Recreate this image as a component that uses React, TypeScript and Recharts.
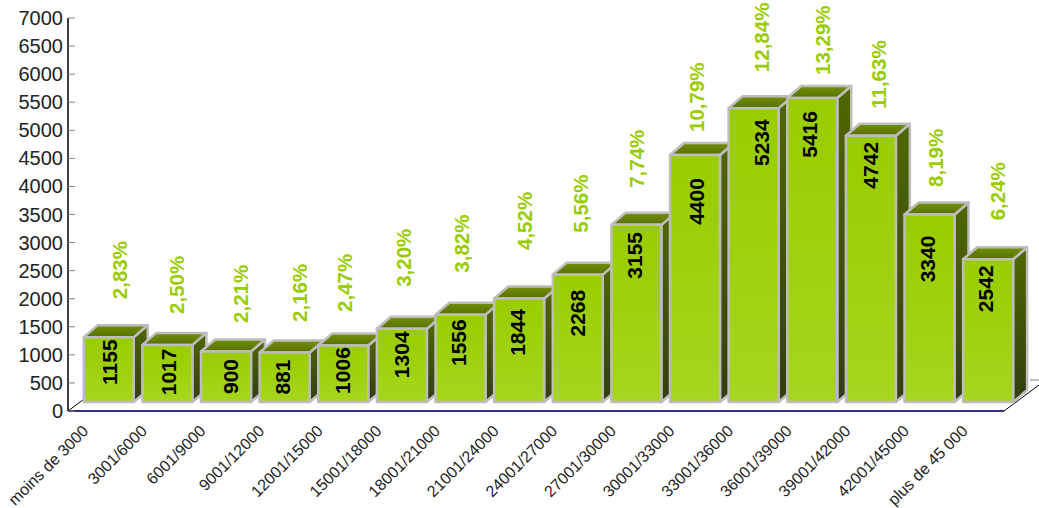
import React from 'react';
import { BarChart, Bar, XAxis, YAxis, LabelList, usePlotArea } from 'recharts';

const categories = [
  'moins de 3000', '3001/6000', '6001/9000', '9001/12000', '12001/15000', '15001/18000',
  '18001/21000', '21001/24000', '24001/27000', '27001/30000', '30001/33000', '33001/36000',
  '36001/39000', '39001/42000', '42001/45000', 'plus de 45 000',
];
const counts = [1155, 1017, 900, 881, 1006, 1304, 1556, 1844, 2268, 3155, 4400, 5234, 5416, 4742, 3340, 2542];
const shares = [
  '2,83%', '2,50%', '2,21%', '2,16%', '2,47%', '3,20%', '3,82%', '4,52%',
  '5,56%', '7,74%', '10,79%', '12,84%', '13,29%', '11,63%', '8,19%', '6,24%',
];
const yTicks = [0, 500, 1000, 1500, 2000, 2500, 3000, 3500, 4000, 4500, 5000, 5500, 6000, 6500, 7000];

const chartData = categories.map((name, i) => ({ name, count: counts[i], share: shares[i] }));

const FONT = '"Liberation Sans", Arial, sans-serif';
// the boxes sit on a floor that is drawn in perspective behind the axis
const SHIFT_X = 11.5;
const SHIFT_Y = -9;
const DEPTH_X = 14;
const DEPTH_Y = -12;

// the source chart places its labels unevenly, these nudges follow it bar by bar
const countDrop = [25, 27, 25, 24.5, 25, 26, 28, 34, 38.5, 30.5, 46.5, 34.5, 36.5, 29.5, 44.5, 29.5];
const countSide = [8.5, 9, 12, 5, 7, 7, 6, 6, 7, 6, 9, 15, 5, 7, 6, 5];
const shareRise = [38, 31, 28.5, 30.6, 33.6, 42, 42, 48.5, 42, 37, 23, 36, 23, 27, 27.6, 39];
const shareSide = [18, 17, 22, 22, 9, 9, 9, 13, 10, 8, 9, 15, 18, 15, 14, 17];

const Box3D = (props: any) => {
  const { x, y, width, height } = props;
  const l = x + SHIFT_X;
  const r = l + width;
  const t = y + SHIFT_Y;
  const b = t + height;
  const edge = { stroke: '#bdbdbd', strokeWidth: 2.5, strokeLinejoin: 'round' as const };
  return (
    <g>
      <polygon
        points={`${r},${t} ${r + DEPTH_X},${t + DEPTH_Y} ${r + DEPTH_X},${b + DEPTH_Y} ${r},${b}`}
        fill="url(#boxSide)"
        {...edge}
      />
      <polygon
        points={`${l},${t} ${l + DEPTH_X},${t + DEPTH_Y} ${r + DEPTH_X},${t + DEPTH_Y} ${r},${t}`}
        fill="url(#boxTop)"
        {...edge}
      />
      <rect x={l} y={t} width={width} height={height} fill="url(#boxFront)" {...edge} />
    </g>
  );
};

const Floor = () => {
  const plot = usePlotArea();
  if (!plot) return null;
  const y0 = plot.y + plot.height;
  const x1 = plot.x + plot.width - 2;
  return (
    <g>
      <line x1={plot.x} y1={y0} x2={x1} y2={y0} stroke="#33337f" strokeWidth={2} />
      <line x1={plot.x} y1={y0} x2={plot.x + 16} y2={y0 - 12} stroke="#000" strokeWidth={1} />
      <line x1={x1} y1={y0} x2={x1 + 35} y2={y0 - 26} stroke="#000" strokeWidth={1} />
      <line x1={x1 + 26} y1={y0 - 31} x2={x1 + 35} y2={y0 - 31} stroke="#808080" strokeWidth={1} />
    </g>
  );
};

const ValueTick = (props: any) => {
  const { y, payload } = props;
  return (
    <g>
      <line x1={68} y1={y} x2={75} y2={y} stroke="#808080" strokeWidth={1} />
      <text x={63} y={y + 7} textAnchor="end" fontFamily={FONT} fontSize={20} fill="#222">
        {payload.value}
      </text>
    </g>
  );
};

const CategoryTick = (props: any) => {
  const { x, y, payload } = props;
  const px = x - 8;
  const py = y + 13;
  return (
    <text
      x={px}
      y={py}
      textAnchor="end"
      fontFamily={FONT}
      fontSize={16}
      fill="#222"
      transform={`rotate(-45 ${px} ${py})`}
    >
      {payload.value}
    </text>
  );
};

const CountLabel = (props: any) => {
  const { x, y, width, value, index } = props;
  const cx = x + SHIFT_X + width / 2 + countSide[index];
  const cy = y + SHIFT_Y + countDrop[index];
  return (
    <text
      x={cx}
      y={cy}
      textAnchor="middle"
      fontFamily={FONT}
      fontSize={21}
      fontWeight="bold"
      fill="#000"
      transform={`rotate(-90 ${cx} ${cy})`}
    >
      {value}
    </text>
  );
};

const ShareLabel = (props: any) => {
  const { x, y, width, value, index } = props;
  const cx = x + SHIFT_X + width / 2 + shareSide[index];
  const cy = y + SHIFT_Y - shareRise[index];
  return (
    <text
      x={cx}
      y={cy}
      textAnchor="start"
      fontFamily={FONT}
      fontSize={20.5}
      fontWeight="bold"
      fill="#99cc00"
      transform={`rotate(-90 ${cx} ${cy})`}
    >
      {value}
    </text>
  );
};

export default function App() {
  return (
    <div style={{ position: 'absolute', left: 0, top: 0, width: 1039, height: 508 }}>
      <BarChart
        width={1039}
        height={508}
        data={chartData}
        margin={{ top: 18, right: 33, bottom: 0, left: 0 }}
        barCategoryGap={4.25}
      >
        <defs>
          <linearGradient id="boxFront" x1="0" y1="0" x2="0" y2="1">
            <stop offset="0%" stopColor="#99cc00" />
            <stop offset="100%" stopColor="#a6d61e" />
          </linearGradient>
          <linearGradient id="boxSide" x1="0" y1="0" x2="0" y2="1">
            <stop offset="0%" stopColor="#4f6800" />
            <stop offset="100%" stopColor="#2f3f10" />
          </linearGradient>
          <linearGradient id="boxTop" x1="0" y1="0" x2="0" y2="1">
            <stop offset="0%" stopColor="#72900a" />
            <stop offset="100%" stopColor="#567000" />
          </linearGradient>
        </defs>
        <Floor />
        <XAxis
          dataKey="name"
          interval={0}
          height={97}
          tickLine={false}
          axisLine={false}
          tick={<CategoryTick />}
        />
        <YAxis
          width={68}
          domain={[0, 7000]}
          ticks={yTicks}
          interval={0}
          tickLine={false}
          axisLine={{ stroke: '#000', strokeWidth: 1.5 }}
          tick={<ValueTick />}
        />
        <Bar dataKey="count" isAnimationActive={false} shape={<Box3D />}>
          <LabelList dataKey="count" content={<CountLabel />} />
          <LabelList dataKey="share" content={<ShareLabel />} />
        </Bar>
      </BarChart>
    </div>
  );
}
